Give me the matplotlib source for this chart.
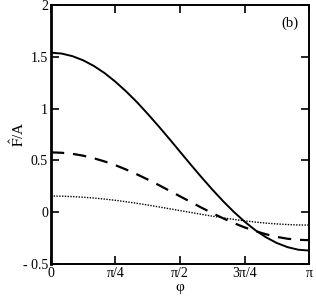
import numpy as np
import matplotlib
matplotlib.use("Agg")
import matplotlib.pyplot as plt

plt.rcParams['font.family'] = ['Liberation Serif', 'DejaVu Serif']
plt.rcParams['mathtext.fontset'] = 'stix'

# phi / pi, sampled every 1/24
phi_frac = np.arange(25) / 24.0

solid = [1.540, 1.532, 1.507, 1.467, 1.412, 1.343, 1.260, 1.166, 1.063,
         0.950, 0.832, 0.710, 0.585, 0.460, 0.338, 0.220, 0.108, 0.004,
         -0.090, -0.173, -0.242, -0.297, -0.337, -0.362, -0.370]
dashed = [0.578, 0.574, 0.564, 0.546, 0.521, 0.490, 0.454, 0.412, 0.366,
          0.316, 0.264, 0.209, 0.154, 0.099, 0.044, -0.008, -0.058, -0.104,
          -0.146, -0.182, -0.213, -0.238, -0.256, -0.266, -0.270]
dotted = [0.156, 0.155, 0.151, 0.145, 0.137, 0.127, 0.115, 0.101, 0.086,
          0.070, 0.052, 0.034, 0.016, -0.002, -0.020, -0.038, -0.054, -0.069,
          -0.083, -0.095, -0.105, -0.113, -0.119, -0.123, -0.124]

xtick_labels = ["0", "π/4", "π/2", "3π/4", "π"]
ytick_vals = [-0.5, 0, 0.5, 1, 1.5, 2]
ytick_labels = ["- 0.5", "0", "0.5", "1", "1.5", "2"]

phi = phi_frac * np.pi

fig = plt.figure(figsize=(3.16, 2.99), dpi=100)
ax = fig.add_axes([0.161, 0.117, 0.817, 0.866])

ax.plot(phi, solid, color="black", lw=1.4, ls="-")
ax.plot(phi, dashed, color="black", lw=1.6, ls=(0, (6, 4)))
ax.plot(phi, dotted, color="black", lw=1.0, ls=(0, (1, 1)))

ax.set_xlim(0, np.pi)
ax.set_ylim(-0.5, 2)
ax.set_xticks(np.linspace(0, np.pi, 5))
ax.set_xticklabels(xtick_labels)
ax.set_yticks(ytick_vals)
ax.set_yticklabels(ytick_labels)

ax.tick_params(direction="in", length=6, width=1.2, top=True, right=True,
               labelsize=10, pad=2)
for s in ax.spines.values():
    s.set_linewidth(1.4)
ax.spines["left"].set_linewidth(2)

ax.set_xlabel("φ", fontsize=11, labelpad=1)
ax.set_ylabel(r"$\hat{\mathrm{F}}$/A", fontsize=11, va="center")
ax.yaxis.set_label_coords(-0.13, 0.5)
ax.text(0.926, 0.93, "(b)", transform=ax.transAxes, fontsize=10.5,
        ha="center", va="center")

fig.savefig("out.png", dpi=100)
